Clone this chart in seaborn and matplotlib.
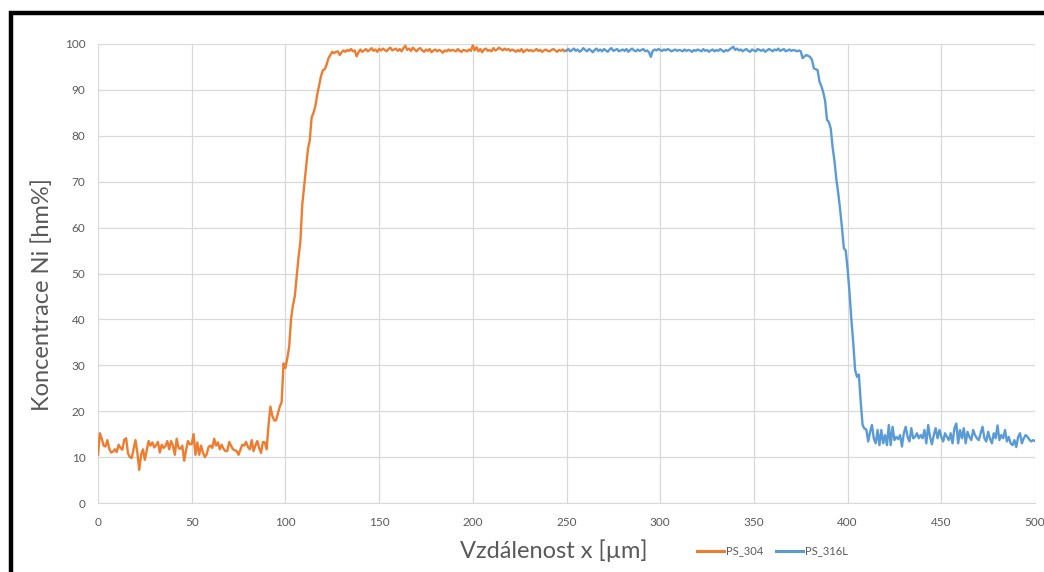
import numpy as np
import pandas as pd
import seaborn as sns
import matplotlib.pyplot as plt
from matplotlib.patches import Rectangle

# Ni concentration profile across the joint, 1 µm step
ps304_x = np.arange(0, 251)
ps304_ni = [
    10.5, 15.2, 14.0, 12.5, 12.3, 13.7, 11.8, 11.0, 11.2, 11.7,
    11.1, 12.7, 12.0, 11.6, 13.8, 14.1, 10.8, 10.0, 9.8, 11.7,
    13.7, 11.0, 7.2, 10.5, 11.7, 9.4, 11.5, 13.5, 12.5, 13.2,
    12.1, 12.6, 13.3, 11.0, 12.7, 12.0, 12.4, 13.5, 11.7, 13.5,
    12.5, 10.5, 14.0, 12.0, 11.8, 12.5, 9.2, 11.5, 13.5, 12.8,
    12.8, 15.0, 10.5, 13.2, 10.5, 12.5, 11.0, 10.0, 10.6, 12.2,
    12.5, 12.0, 14.0, 12.5, 13.2, 11.7, 12.7, 11.8, 11.3, 11.3,
    13.3, 12.5, 11.7, 11.5, 11.3, 10.5, 11.6, 12.7, 12.5, 13.3,
    12.2, 11.7, 13.7, 11.3, 12.5, 13.5, 12.0, 10.9, 13.3, 13.2,
    11.7, 17.0, 21.0, 19.0, 18.0, 18.0, 19.5, 21.0, 22.0, 30.4,
    29.4, 31.5, 34.0, 40.0, 43.0, 45.0, 49.3, 53.5, 57.0, 65.0,
    68.9, 73.0, 77.0, 79.0, 84.0, 85.0, 86.5, 89.0, 91.0, 93.0,
    94.3, 94.5, 95.5, 96.9, 97.6, 98.3, 98.0, 98.3, 98.4, 97.6,
    98.2, 98.6, 98.3, 98.7, 98.5, 98.9, 98.4, 98.6, 97.3, 98.2,
    98.8, 98.3, 98.6, 98.9, 98.4, 98.7, 99.1, 98.5, 98.8, 98.3,
    98.9, 98.6, 99.0, 98.7, 98.4, 98.9, 99.2, 98.6, 98.8, 99.0,
    98.5, 98.9, 98.4, 99.1, 99.6, 98.7, 99.0, 98.5, 99.2, 98.8,
    98.4, 98.9, 99.1, 98.6, 98.3, 98.8, 98.5, 98.9, 98.2, 98.6,
    98.8, 98.4, 98.7, 98.5, 98.1, 98.6, 98.4, 98.8, 98.5, 98.7,
    98.6, 98.4, 98.9, 98.5, 98.3, 98.7, 98.6, 98.4, 98.8, 98.5,
    99.7, 98.6, 99.3, 98.4, 98.9, 98.2, 98.8, 99.0, 98.5, 98.7,
    98.4, 99.1, 98.6, 98.8, 99.2, 98.9, 98.6, 99.0, 98.7, 98.9,
    98.5, 98.8, 98.6, 98.3, 98.7, 98.4, 98.9, 98.2, 98.6, 98.8,
    98.5, 98.7, 98.4, 98.6, 98.9, 98.5, 98.7, 98.3, 98.6, 98.8,
    98.5, 98.4, 98.7, 98.9, 98.6, 98.3, 98.7, 98.5, 98.8, 98.4,
    98.6,
]

ps316l_x = np.arange(250, 501)
ps316l_ni = [
    98.6, 98.9, 98.4, 98.7, 99.0, 98.5, 98.8, 98.3, 98.6, 99.1,
    98.7, 98.4, 98.9, 98.6, 98.2, 98.7, 99.0, 98.5, 98.8, 98.4,
    98.9, 98.6, 98.3, 98.8, 99.1, 98.5, 98.7, 98.9, 98.4, 98.6,
    98.8, 98.5, 98.9, 98.3, 98.7, 99.0, 98.6, 98.4, 98.8, 98.5,
    98.7, 98.9, 98.4, 98.6, 98.2, 97.2, 98.5, 98.8, 98.6, 98.9,
    98.7, 98.5, 98.8, 98.6, 98.9, 98.7, 98.4, 98.6, 98.8, 98.5,
    98.7, 98.6, 98.4, 98.8, 98.5, 98.7, 98.6, 98.3, 98.7, 98.5,
    98.8, 98.6, 98.4, 98.9, 98.5, 98.7, 98.3, 98.6, 98.8, 98.4,
    98.7, 98.5, 98.9, 98.6, 98.3, 98.7, 98.5, 98.8, 99.1, 99.4,
    98.7, 99.0, 98.6, 98.8, 98.4, 98.7, 98.9, 98.5, 98.3, 98.8,
    98.6, 98.4, 98.9, 98.7, 98.5, 98.8, 98.3, 98.6, 98.9, 98.7,
    98.4, 98.8, 98.6, 99.0, 98.5, 98.7, 98.9, 98.4, 98.6, 98.8,
    98.5, 98.7, 98.6, 98.4, 98.6, 98.4, 96.9, 97.3, 97.6, 97.4,
    97.2, 96.5, 94.7, 94.5, 94.3, 91.8, 90.8, 89.5, 87.6, 83.5,
    83.0, 81.6, 77.5, 74.5, 70.5, 67.5, 64.0, 60.0, 55.5, 55.0,
    51.0, 46.0, 40.0, 35.0, 29.0, 27.5, 28.0, 22.0, 17.0, 16.2,
    16.0, 13.4, 15.5, 17.0, 14.0, 13.0, 15.9, 12.6, 15.9, 13.0,
    14.8, 12.6, 17.0, 12.6, 16.6, 13.7, 14.4, 13.9, 14.8, 12.3,
    15.2, 16.6, 14.4, 13.4, 16.3, 14.1, 14.4, 15.2, 14.1, 14.8,
    14.1, 15.9, 13.0, 17.0, 14.4, 12.8, 14.8, 16.3, 14.1, 15.9,
    14.4, 13.4, 15.2, 14.4, 13.7, 15.2, 13.0, 16.3, 17.3, 13.0,
    15.9, 14.1, 16.3, 13.0, 15.5, 14.4, 13.7, 15.9, 14.8, 14.1,
    13.7, 15.2, 16.6, 14.1, 13.4, 15.5, 14.0, 13.0, 15.2, 14.1,
    16.9, 13.7, 14.8, 14.1, 15.9, 13.4, 14.4, 13.0, 12.6, 13.7,
    12.2, 14.4, 15.2, 13.0, 14.1, 14.8, 14.4, 13.8, 13.4, 13.7,
    13.5,
]

series_names = ["PS_304", "PS_316L"]
colors = {"PS_304": "#ED7D31", "PS_316L": "#5B9BD5"}

df = pd.concat([
    pd.DataFrame({"x": ps304_x, "ni": ps304_ni, "vzorek": "PS_304"}),
    pd.DataFrame({"x": ps316l_x, "ni": ps316l_ni, "vzorek": "PS_316L"}),
])

plt.rcParams["font.family"] = ["Lato", "DejaVu Sans"]
txt = "#595959"

fig = plt.figure(figsize=(10.44, 5.72), dpi=100)
ax = fig.add_axes([98 / 1044, 69 / 572, 937 / 1044, 459 / 572])

sns.lineplot(data=df, x="x", y="ni", hue="vzorek", hue_order=series_names,
             palette=colors, linewidth=1.7, estimator=None, ax=ax)

ax.set_xlim(0, 500)
ax.set_ylim(0, 100)
ax.set_xticks(range(0, 501, 50))
ax.set_yticks(range(0, 101, 10))
ax.grid(True, color="#D9D9D9", linewidth=0.9)
ax.set_axisbelow(True)
for s in ["top", "right", "left"]:
    ax.spines[s].set_visible(False)
ax.spines["bottom"].set_color("#D9D9D9")
ax.tick_params(length=0, labelsize=8.5, labelcolor=txt)
ax.tick_params(axis="y", pad=9)
ax.tick_params(axis="x", pad=10)

ax.set_xlabel("")
ax.set_ylabel("")
fig.text(42 / 1044, 1 - 295 / 572, "Koncentrace Ni [hm%]", fontsize=17, color=txt,
         rotation=90, ha="center", va="center")
fig.text(554 / 1044, 1 - 551 / 572, "Vzdálenost x [µm]", fontsize=17,
         color=txt, ha="center", va="center")

ax.get_legend().remove()
handles = [plt.Line2D([], [], color=colors[n], lw=2.2) for n in series_names]
fig.legend(handles, series_names, loc="center", bbox_to_anchor=(0.74, 1 - 551 / 572),
           ncol=2, frameon=False, fontsize=8, labelcolor=txt, handlelength=2.4,
           handletextpad=0.2, columnspacing=1.2)

# black frame around the chart (cut at right and bottom)
fig.add_artist(Rectangle((11 / 1044, -0.1), 1.2, 1.1 - 13 / 572, transform=fig.transFigure,
                         fill=False, edgecolor="black", linewidth=3.2, clip_on=False))

fig.savefig("out.png", dpi=100)
